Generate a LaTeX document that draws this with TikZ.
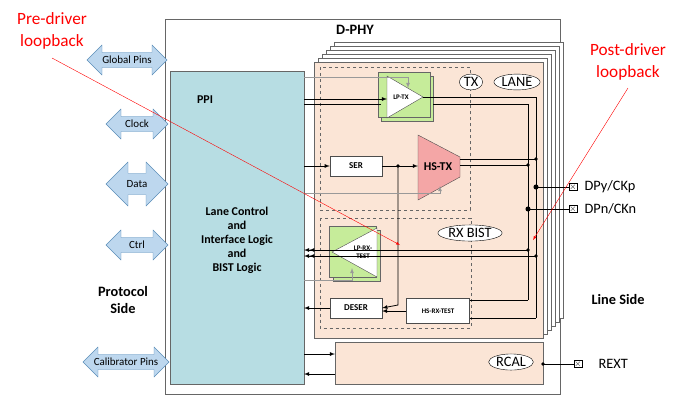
\documentclass[tikz,border=0pt]{standalone}
\usepackage{fontspec}
\setmainfont{Carlito}
\usetikzlibrary{arrows,shapes,shapes.geometric,shapes.arrows,positioning}
\definecolor{ppicol}{HTML}{B7DDE3}
\definecolor{lanecol}{HTML}{FBE5D6}
\definecolor{pincol}{HTML}{BDD7EE}
\definecolor{pinborder}{HTML}{5B8DB8}
\definecolor{gcol}{HTML}{C6EC9A}
\definecolor{hscol}{HTML}{F4A6A6}
\tikzset{
  blk/.style={draw=black!70,fill=white,font=\bfseries\small,inner sep=0pt},
  pin/.style={double arrow,draw=pinborder,fill=pincol,double arrow head extend=5bp,inner sep=1bp,font=\fontsize{11}{13}\selectfont,minimum height=#1,minimum width=30bp},
  tag/.style={ellipse,draw,fill=white,inner sep=1bp,font=\Large},
  sig/.style={draw=black,line width=0.8pt},
  gsig/.style={draw=black!40,line width=0.8pt},
  dot/.style={circle,fill=black,inner sep=1.3bp},
  xpin/.style={draw,inner sep=0.5bp,font=\small},
  red note/.style={text=red,font=\LARGE,align=center}
}
\begin{document}
\begin{tikzpicture}[x=1bp,y=-1bp,>=latex]
\useasboundingbox (0,0) rectangle (700,402);
% D-PHY box
\draw[black!60,fill=white] (165,19) rectangle (560,394);
\node[font=\Large\bfseries] (dphy) at (355,30) {D-PHY};
% stacked lanes
\foreach \o in {20,16,12,8,4}
  \draw[black!60,fill=white] (314+\o,62-\o) rectangle (543+\o,338-\o);
\draw[black!60,fill=lanecol] (314,62) rectangle (543,338);
\draw[black!60,dashed] (320,67) rectangle (470,210);
\draw[black!60,dashed] (320,218) rectangle (471,328);
% PPI
\node[draw=black!60,fill=ppicol,minimum width=134bp,minimum height=313bp,anchor=north west,inner sep=0pt] (ppi) at (170,71) {};
\node[font=\large\bfseries] at (205,100) {PPI};
\node[font=\bfseries\large,align=center] at (237,240) {Lane Control\\and\\Interface Logic\\and\\BIST Logic};
% tags
\node[tag] (tx) at (471,82) {TX};
\node[tag] (lane) at (517,82) {LANE};
\node[tag] (rxbist) at (470,233) {RX BIST};
% LP-TX
\draw[black!60,fill=gcol] (381,76) rectangle (433,121);
\node[draw=black!60,fill=gcol,minimum width=52bp,minimum height=45bp,inner sep=0pt] (lptxbox) at (404,95) {};
\draw[black!70,fill=white] (387,76) -- (423,97) -- (387,118) -- cycle;
\node[font=\bfseries\scriptsize] (lptx) at (401,97) {LP-TX};
% SER, HS-TX
\node[blk,minimum width=52bp,minimum height=20bp] (ser) at (356,166) {SER};
\draw[black!70,fill=hscol] (418,135) -- (460,157) -- (460,177) -- (418,200) -- cycle;
\node[font=\bfseries\large] (hstx) at (438,167) {HS-TX};
% LP-RX-TEST
\draw[black!60,fill=gcol] (333,230) rectangle (380,281);
\node[draw=black!60,fill=gcol,minimum width=47bp,minimum height=51bp,inner sep=0pt] (lprxbox) at (353,252) {};
\draw[black!70,fill=white] (377,228) -- (332,252) -- (377,277) -- cycle;
\node[font=\bfseries\scriptsize,align=center] (lprx) at (363,252) {LP-RX-\\TEST};
% DESER, HS-RX-TEST
\node[blk,minimum width=52bp,minimum height=20bp] (deser) at (356,308) {DESER};
\node[blk,font=\bfseries\scriptsize,minimum width=63bp,minimum height=25bp] (hsrx) at (438,311) {HS-RX-TEST};
% RCAL
\draw[black!60,fill=lanecol] (335,342) rectangle (543,384);
\node[tag] (rcal) at (511,362) {RCAL};
% line side wiring
\draw[sig] (536,97) -- (536,318);
\draw[sig] (528,104) -- (528,300);
\draw[gsig,->] (304,77) -- (408,77) -- (408,88);
\draw[sig,->] (304,99) -- (387,99);
\draw[sig] (423,97) -- (536,97);
\draw[sig] (304,104) -- (381,104) (433,104) -- (528,104);
\draw[sig,->] (304,166) -- (ser.west);
\draw[sig,->] (ser.east) -- (418,166);
\node[dot] (sdot) at (398,166) {};
\draw[sig,->] (398,166) -- (398,305) -- (deser.east);
\draw[sig] (460,159) -- (536,159) (460,165) -- (528,165);
\node[dot] at (536,159) {};
\node[dot] at (528,165) {};
\draw[gsig,->] (304,193) -- (440,193) -- (440,186);
\draw[gsig,->] (304,280) -- (352,280) -- (352,268);
\draw[sig,->>] (528,250) -- (304,250);
\draw[sig,->>] (536,256) -- (304,256);
\node[dot] at (528,250) {};
\node[dot] at (536,256) {};
\draw[sig,->] (deser.west) -- (304,308);
\draw[sig,->] (hsrx.west) -- (382,311);
\draw[sig] (528,300) -- (470,300) (470,318) -- (536,318);
% pins
\node[font=\Large,anchor=west] (dpy) at (581,187) {DPy/CKp};
\node[font=\Large,anchor=west] (dpn) at (581,209) {DPn/CKn};
\node[xpin] (dpypin) at (573,187) {$\times$};
\node[xpin] (dpnpin) at (573,209) {$\times$};
\draw[sig] (536,187) -- (dpypin) (528,209) -- (dpnpin);
\node[dot,inner sep=1.8bp] at (536,187) {};
\node[dot,inner sep=1.8bp] at (528,209) {};
\node[xpin] (rextpin) at (578,364) {$\times$};
\node[font=\Large,anchor=west] (rext) at (595,364) {REXT};
\draw[sig] (543,364) -- (rextpin);
\node[dot] at (543,364) {};
\draw[sig,->] (304,354) -- (335,354);
\draw[sig,->] (335,374) -- (304,374);
% protocol side
\node[pin=80bp] (gpins) at (127,60) {Global Pins};
\node[pin=62bp] (clock) at (137,124) {Clock};
\node[pin=62bp,minimum width=44bp] (data) at (137,184) {Data};
\node[pin=62bp] (ctrl) at (137,245) {Ctrl};
\node[pin=86bp] (cpins) at (126,362) {Calibrator Pins};
\node[font=\bfseries\Large,align=center] (proto) at (123,300) {Protocol\\Side};
\node[font=\bfseries\Large] (lside) at (618,300) {Line Side};
% loopbacks
\node[red note] (pre) at (52,31) {Pre-driver\\loopback};
\node[red note] (post) at (628,62) {Post-driver\\loopback};
\draw[red,->] (52,58) -- (400,245);
\draw[red,->] (628,88) -- (533,240);
\end{tikzpicture}
\end{document}
